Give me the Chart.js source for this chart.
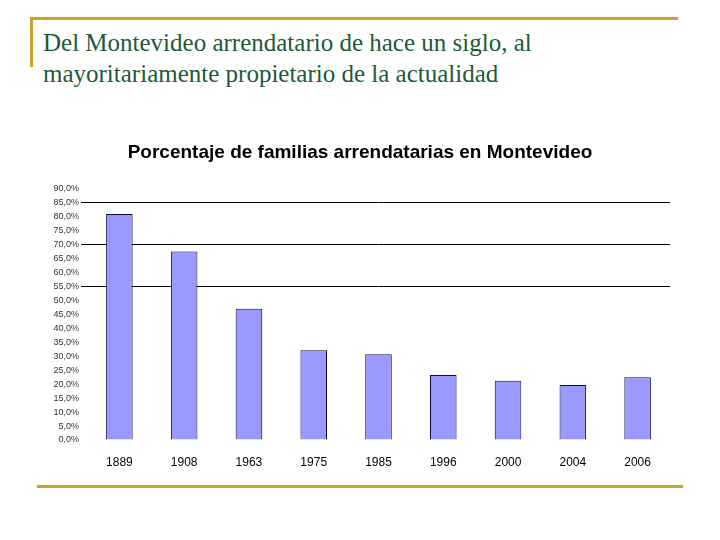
<!DOCTYPE html>
<html>
<head>
<meta charset="utf-8">
<script src="https://cdn.jsdelivr.net/npm/chart.js@4.4.1/dist/chart.umd.min.js"></script>
<style>
  html, body { margin: 0; padding: 0; background: #fff; }
  #slide { position: relative; width: 720px; height: 540px; overflow: hidden; }
  #top-line { position: absolute; left: 30px; top: 17px; width: 648px; height: 3px; background: #c9a227; }
  #left-line { position: absolute; left: 30px; top: 17px; width: 3px; height: 50px; background: #c9a227; }
  #bottom-line { position: absolute; left: 37px; top: 485px; width: 646px; height: 3px; background: #c9a227; }
  #slide-title {
    position: absolute; left: 43px; top: 27px;
    font-family: "Liberation Serif", "Times New Roman", serif;
    font-size: 25px; line-height: 31px; color: #1d5a38;
  }
  #chart-box { position: absolute; left: 0; top: 130px; width: 720px; height: 350px; }
</style>
</head>
<body>
<div id="slide">
  <div id="top-line"></div>
  <div id="left-line"></div>
  <div id="slide-title">Del Montevideo arrendatario de hace un siglo, al<br>mayoritariamente propietario de la actualidad</div>
  <div id="chart-box"><canvas id="rent-chart"></canvas></div>
  <div id="bottom-line"></div>
</div>
<script>
"use strict";
const years = ["1889", "1908", "1963", "1975", "1985", "1996", "2000", "2004", "2006"];
const rentingShare = [81.0, 67.5, 47.0, 32.2, 30.7, 23.3, 21.2, 19.7, 22.5];
const gridMarks = [55, 70, 85];

document.addEventListener("DOMContentLoaded", () => {
  const chartElement = document.querySelector("#rent-chart");
  new Chart(chartElement, {
    type: "bar",
    data: {
      labels: years,
      datasets: [
        {
          label: "Familias arrendatarias",
          data: rentingShare,
          backgroundColor: "#9999ff",
          borderColor: "#0a0a3c",
          borderWidth: 1,
          barPercentage: 0.41,
          categoryPercentage: 1,
        },
      ],
    },
    options: {
      responsive: true,
      maintainAspectRatio: false,
      animation: false,
      layout: { padding: { left: 50, right: 50, top: 0, bottom: 0 } },
      plugins: {
        legend: { display: false },
        tooltip: { enabled: false },
        title: {
          display: true,
          text: "Porcentaje de familias arrendatarias en Montevideo",
          color: "#000",
          font: { family: "Liberation Sans", size: 19, weight: "bold" },
          padding: { top: 11, bottom: 25 },
        },
      },
      scales: {
        x: {
          grid: { display: false },
          border: { display: false },
          ticks: {
            color: "#000",
            padding: 7,
            font: { family: "Liberation Sans", size: 12 },
          },
          afterFit: (scale) => {
            scale.height = 40;
          },
        },
        y: {
          min: 0,
          max: 90,
          border: { display: false },
          grid: {
            color: (ctx) =>
              ctx.tick && gridMarks.includes(ctx.tick.value) ? "#000" : "rgba(0,0,0,0)",
            tickLength: 6,
            lineWidth: 1,
          },
          ticks: {
            stepSize: 5,
            padding: 2,
            color: "#333",
            font: { family: "Liberation Sans", size: 9 },
            callback: (value) => value.toFixed(1).replace(".", ",") + "%",
          },
          afterFit: (scale) => {
            scale.width = 37;
          },
        },
      },
    },
  });
});
</script>
</body>
</html>
